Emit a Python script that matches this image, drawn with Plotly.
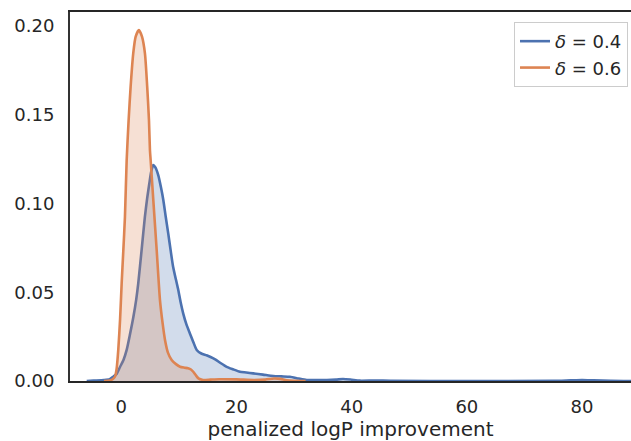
import plotly.graph_objects as go

# KDE curve for delta = 0.4
kde04_x = [-6, -4.8, -3, -2, -1.4, -0.8, -0.2, 0.4, 0.94, 1.5, 2.1, 2.6, 2.95, 3.54, 4.1, 4.5, 4.86, 5.2, 5.56,
           5.9, 6.42, 6.9, 7.3, 7.7, 8.16, 8.6, 9.0, 9.5, 9.9, 10.3, 10.76, 11.3, 11.9, 12.5, 13.1, 13.9, 14.8,
           15.5, 16.3, 17.3, 18.3, 19.4, 20.6, 21.7, 22.9, 24.6, 26.4, 27.8, 29.3, 30.8, 32.2, 35.7, 37.3, 38.5,
           39.8, 41.4, 44, 47, 60, 75, 78, 80, 82, 85, 88.5]
kde04_y = [0, 0.0002, 0.0005, 0.001, 0.0024, 0.004, 0.008, 0.012, 0.0175, 0.026, 0.036, 0.046, 0.055, 0.074,
           0.0925, 0.103, 0.111, 0.118, 0.1217, 0.1205, 0.116, 0.109, 0.102, 0.093, 0.083, 0.073, 0.0644, 0.057,
           0.0513, 0.0445, 0.038, 0.032, 0.0269, 0.022, 0.0175, 0.0155, 0.0145, 0.0135, 0.0122, 0.0100, 0.008,
           0.0066, 0.0052, 0.0048, 0.0043, 0.0036, 0.0028, 0.0026, 0.0024, 0.0014, 0.0006, 0.0006, 0.0008, 0.0011,
           0.0008, 0.0002, 0.0003, 0.0001, 0, 0.0001, 0.0004, 0.0006, 0.0004, 0.0001, 0]

# KDE curve for delta = 0.6
kde06_x = [-3, -2, -1.5, -1.1, -0.8, -0.52, -0.2, 0.07, 0.35, 0.64, 0.94, 1.28, 1.63, 2.08, 2.5, 3.07, 3.6,
           4.11, 4.5, 4.81, 4.98, 5.1, 5.56, 6.15, 6.72, 7.2, 7.6, 8.1, 8.75, 9.5, 10.2, 11.0, 11.6, 12.1, 12.5,
           13.0, 13.4, 14.2, 15.5, 17, 20, 23, 25, 26.5, 27.6, 28.7, 30, 32]
kde06_y = [0, 0.0003, 0.001, 0.0024, 0.007, 0.0175, 0.035, 0.055, 0.073, 0.0925, 0.1245, 0.147, 0.166, 0.1846,
           0.194, 0.1977, 0.194, 0.1846, 0.166, 0.147, 0.130, 0.1245, 0.102, 0.0738, 0.0456, 0.032, 0.023, 0.016,
           0.0118, 0.0095, 0.008, 0.0075, 0.0072, 0.0065, 0.0052, 0.003, 0.0015, 0.0006, 0.0008, 0.0010, 0.0009,
           0.0006, 0.0008, 0.0014, 0.0012, 0.0004, 0.0001, 0]

# Rug observations
rug04 = [1.5, 2.6, 3.3, 4.0, 4.6, 5.2, 5.7, 6.1, 6.6, 7.0, 7.5, 7.9, 8.3, 8.7, 9.0, 9.4, 9.8, 10.1, 10.5, 10.9,
         11.2, 11.6, 12.0, 12.3, 12.7, 13.1, 13.4, 13.8, 14.2, 14.6, 15.0, 15.4, 15.8, 16.3, 16.8, 17.4, 17.9,
         18.6, 19.1, 19.8, 20.6, 21.2, 21.9, 22.6, 23.5, 24.3, 25.0, 25.8, 26.7, 27.3, 28.9, 29.8, 38.5, 44.0, 80.0]
rug06 = [0.0, 0.1, 0.25, 0.4, 0.5, 0.65, 0.8, 0.95, 1.1, 1.2, 1.35, 1.5, 1.6, 1.75, 1.9, 2.0, 2.15, 2.3, 2.45,
         2.55, 2.7, 2.85, 3.0, 3.1, 3.25, 3.4, 3.5, 3.65, 3.8, 3.95, 4.05, 4.2, 4.35, 4.5, 4.6, 4.75, 4.9, 5.05,
         5.2, 5.3, 5.45, 5.6, 5.8, 5.95, 6.1, 6.3, 6.5, 6.7, 6.9, 7.1, 7.4, 7.7, 8.0, 8.4, 8.9, 9.3, 9.8, 10.4,
         11.0, 11.7, 12.3, 13.0, 13.8, 15.2, 17.1, 18.3, 20.3, 23.2, 26.0, 27.6]

x_ticks = [0, 20, 40, 60, 80]
y_ticks = [0.0, 0.05, 0.10, 0.15, 0.20]
labels = ["<i>δ</i> = 0.4", "<i>δ</i> = 0.6"]

BLUE = "#4c72b0"
ORANGE = "#dd8452"
FONT = "DejaVu Sans"
RUG_Y = -0.0024

fig = go.Figure()
series = [(kde04_x, kde04_y, rug04, BLUE, "rgba(76,114,176,0.25)", "rgba(76,114,176,0.75)"),
          (kde06_x, kde06_y, rug06, ORANGE, "rgba(221,132,82,0.25)", "rgba(221,132,82,0.95)")]
for kx, ky, rug, col, fillc, rugc in series:
    fig.add_trace(go.Scatter(x=kx, y=ky, mode="lines", fill="tozeroy", fillcolor=fillc,
                             line=dict(color=col, width=2.6, shape="spline", smoothing=0.6),
                             showlegend=False, hoverinfo="skip"))
    fig.add_trace(go.Scatter(x=rug, y=[RUG_Y] * len(rug), mode="markers", cliponaxis=False,
                             marker=dict(symbol="line-ns", size=9, line=dict(color=rugc, width=1.5)),
                             showlegend=False, hoverinfo="skip"))
# legend entries (line only, as in the reference)
for col, name in [(BLUE, labels[0]), (ORANGE, labels[1])]:
    fig.add_trace(go.Scatter(x=[None], y=[None], mode="lines", line=dict(color=col, width=2.6), name=name))

fig.update_layout(
    width=631, height=441,
    margin=dict(l=70, r=0, t=12, b=60),
    plot_bgcolor="white", paper_bgcolor="white",
    font=dict(family=FONT, size=18, color="#262626"),
    legend=dict(x=0.9947, y=0.973, xanchor="right", yanchor="top",
                bgcolor="white", bordercolor="#cccccc", borderwidth=1,
                font=dict(family=FONT, size=18, color="#262626"),
                tracegroupgap=0),
    showlegend=True,
)
fig.update_xaxes(range=[-8.9, 88.5], tickvals=x_ticks, ticktext=[str(v) for v in x_ticks],
                 showgrid=False, zeroline=False, showline=True, linecolor="#262626", linewidth=2,
                 mirror=True, ticks="", ticklabelstandoff=8, automargin=False,
                 title=dict(text="penalized logP improvement", font=dict(size=20), standoff=8))
fig.update_yaxes(range=[0, 0.2079], tickvals=y_ticks, ticktext=["%.2f" % v for v in y_ticks],
                 showgrid=False, zeroline=False, showline=True, linecolor="#333333", linewidth=2,
                 ticks="", ticklabelstandoff=10, automargin=False)

# remove the browser's default body margin so the 631x441 figure fills the window exactly
fig.write_html("out.html", config={"displayModeBar": False},
               post_script="document.body.style.margin='0';document.body.style.overflow='hidden';")
